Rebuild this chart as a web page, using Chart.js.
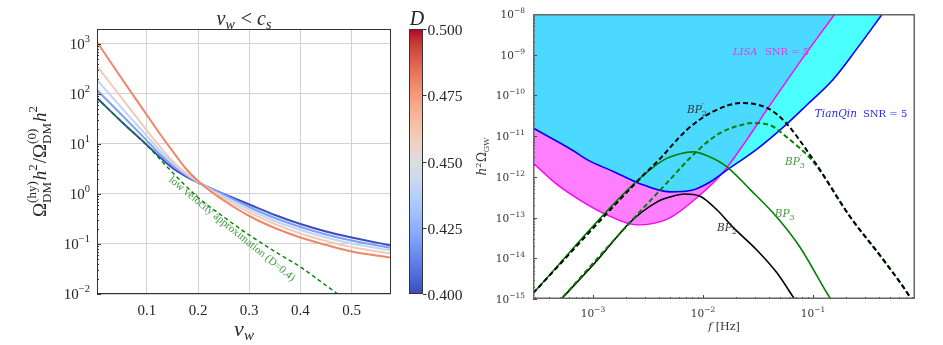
<!DOCTYPE html>
<html>
<head>
<meta charset="utf-8">
<script src="https://cdn.jsdelivr.net/npm/chart.js@4/dist/chart.umd.min.js"></script>
<style>
  html, body { margin: 0; padding: 0; background: #fff; }
  #wrap { position: relative; width: 943px; height: 345px; overflow: hidden; }
  canvas { position: absolute; top: 0; }
</style>
</head>
<body>
<div id="wrap">
  <canvas id="relic" width="400" height="345" style="left:0;width:400px;height:345px"></canvas>
  <canvas id="cbar" width="70" height="345" style="left:400px;width:70px;height:345px"></canvas>
  <canvas id="gw" width="473" height="345" style="left:470px;width:473px;height:345px"></canvas>
</div>
<script>
// ---------- left panel: relic abundance ratio vs wall velocity ----------
const VW = [0.0025, 0.05, 0.1, 0.125, 0.15, 0.175, 0.2, 0.225, 0.25, 0.3, 0.35, 0.4, 0.45, 0.5, 0.577];
const D_VALUES = [0.40, 0.42, 0.44, 0.46, 0.48];
const RATIO_D040 = [83.2, 28.2, 9.55, 5.50, 3.31, 2.29, 1.70, 1.29, 1.00, 0.617, 0.380, 0.251, 0.178, 0.135, 0.0933];
const RATIO_D042 = [120, 38.9, 11.7, 6.31, 3.72, 2.43, 1.72, 1.29, 0.977, 0.550, 0.331, 0.219, 0.155, 0.117, 0.0832];
const RATIO_D044 = [191, 53.7, 14.5, 7.41, 4.17, 2.57, 1.74, 1.23, 0.891, 0.490, 0.288, 0.191, 0.135, 0.102, 0.0741];
const RATIO_D046 = [363, 85.1, 18.6, 8.91, 4.57, 2.69, 1.76, 1.19, 0.813, 0.427, 0.251, 0.162, 0.115, 0.0871, 0.0646];
const RATIO_D048 = [1096, 209, 38.0, 16.2, 7.24, 3.31, 1.82, 1.12, 0.741, 0.363, 0.209, 0.135, 0.0955, 0.0708, 0.0537];
const RATIO_BY_D = [RATIO_D040, RATIO_D042, RATIO_D044, RATIO_D046, RATIO_D048];
// low velocity approximation, D = 0.4
const LOWV_VW = [0.0025, 0.05, 0.1, 0.15, 0.2, 0.25, 0.3, 0.35, 0.4, 0.45, 0.5];
const LOWV_RATIO = [83.2, 28.2, 9.33, 2.69, 0.851, 0.347, 0.151, 0.0708, 0.0347, 0.0148, 0.00631];
const VW_TICKS = [0.1, 0.2, 0.3, 0.4, 0.5];
const RATIO_TICK_EXP = [-2, -1, 0, 1, 2, 3];
const D_RANGE = [0.400, 0.500];
const D_TICKS = [0.400, 0.425, 0.450, 0.475, 0.500];

// ---------- right panel: GW spectra and detector sensitivities ----------
const TQ_F = [2.85e-4, 6.46e-4, 9.0e-4, 1.51e-3, 2.57e-3, 5.0e-3, 7.9e-3, 1.15e-2, 1.66e-2, 3.16e-2, 5.37e-2, 8.9e-2, 0.151, 0.251, 0.427];
const TQ_OMEGA = [1.58e-11, 4.57e-12, 2.57e-12, 1.38e-12, 7.1e-13, 4.27e-13, 4.7e-13, 7.4e-13, 1.48e-12, 5.0e-12, 1.66e-11, 6.0e-11, 2.4e-10, 1.41e-9, 1e-8];
const LISA_F = [2.85e-4, 4.52e-4, 7.6e-4, 1.35e-3, 2.51e-3, 3.55e-3, 5.0e-3, 8.9e-3, 1.51e-2, 2.4e-2, 3.8e-2, 7.6e-2, 0.158];
const LISA_OMEGA = [2.19e-12, 7.1e-13, 2.69e-13, 1.15e-13, 6.6e-14, 7.2e-14, 9.8e-14, 3.16e-13, 1.26e-12, 6.9e-12, 4.4e-11, 6.6e-10, 1e-8];
const BP2_F = [4.79e-4, 1.10e-3, 2.19e-3, 3.8e-3, 5.0e-3, 6.8e-3, 9.3e-3, 1.35e-2, 1.86e-2, 3.1e-2, 4.7e-2, 6.6e-2, 6.9e-2];
const BP2_OMEGA = [8.1e-16, 9.1e-15, 7.8e-14, 2.4e-13, 3.2e-13, 3.8e-13, 3.4e-13, 1.51e-13, 5.9e-14, 1.58e-14, 4.4e-15, 1.12e-15, 9.3e-16];
const BP2P_F = [2.85e-4, 2.51e-3, 4.07e-3, 7.1e-3, 1.23e-2, 2.24e-2, 3.9e-2, 5.6e-2, 0.1, 0.219, 0.437, 0.76, 0.79];
const BP2P_OMEGA = [1.38e-15, 7.6e-13, 2.8e-12, 1.41e-11, 4.0e-11, 6.5e-11, 4.8e-11, 2.2e-11, 2.7e-12, 1.02e-13, 9.1e-15, 1.12e-15, 9.3e-16];
const BP3_F = [2.85e-4, 2.19e-3, 4.37e-3, 6.2e-3, 8.1e-3, 1.12e-2, 1.66e-2, 2.7e-2, 4.7e-2, 7.6e-2, 0.141, 0.148];
const BP3_OMEGA = [1.38e-15, 5.6e-13, 2.57e-12, 3.7e-12, 4.1e-12, 3.2e-12, 1.74e-12, 4.8e-13, 1.02e-13, 1.9e-14, 1.12e-15, 9.3e-16];
const BP3P_F = [4.79e-4, 2.19e-3, 4.37e-3, 8.9e-3, 1.41e-2, 2.19e-2, 2.82e-2, 4.07e-2, 5.75e-2, 0.1, 0.219, 0.437, 0.76, 0.79];
const BP3P_OMEGA = [8.1e-16, 7.8e-14, 5.75e-13, 4.37e-12, 1.17e-11, 1.86e-11, 2.09e-11, 1.86e-11, 9.5e-12, 2.4e-12, 1.02e-13, 9.1e-15, 1.12e-15, 9.3e-16];
const F_RANGE = [2.85e-4, 0.846];
const OMEGA_RANGE = [1e-15, 1e-8];
const F_TICK_EXP = [-3, -2, -1];
const OMEGA_TICK_EXP = [-15, -14, -13, -12, -11, -10, -9, -8];

const SERIF_L = '"Liberation Serif", "DejaVu Serif", serif';
const SERIF_R = '"DejaVu Serif", serif';
const GREEN = '#008000';

// coolwarm colour table (33 stops)
const COOLWARM = [[59,76,192],[68,90,204],[77,104,215],[87,117,225],[98,130,234],[108,142,241],[119,154,247],[130,165,251],
  [141,176,254],[152,185,255],[163,194,255],[174,201,253],[184,208,249],[194,213,244],[204,217,238],[213,219,230],
  [221,221,221],[229,216,209],[236,211,197],[241,204,185],[245,196,173],[247,187,160],[247,177,148],[247,166,135],
  [244,154,123],[241,141,111],[236,127,99],[229,112,88],[222,96,77],[213,80,66],[203,62,56],[192,40,47],[180,4,38]];
function coolwarm(t) {
  t = Math.min(1, Math.max(0, t));
  const s = t * (COOLWARM.length - 1);
  const i = Math.min(Math.floor(s), COOLWARM.length - 2);
  const f = s - i, a = COOLWARM[i], b = COOLWARM[i + 1];
  return 'rgb(' + [0, 1, 2].map(k => Math.round(a[k] + (b[k] - a[k]) * f)).join(',') + ')';
}
const colorForD = d => coolwarm((d - D_RANGE[0]) / (D_RANGE[1] - D_RANGE[0]));
const pts = (xs, ys) => xs.map((x, i) => ({ x, y: ys[i] }));
const sup = n => (n < 0 ? '\u2212' + (-n) : String(n));

// draws a run of text pieces; a piece may carry a stacked superscript/subscript
function mathRun(ctx, parts, x, y, align) {
  const widths = parts.map(p => {
    ctx.font = p.f;
    let w = ctx.measureText(p.t).width;
    if (p.sup || p.sub) {
      ctx.font = p.sf;
      w += Math.max(p.sup ? ctx.measureText(p.sup).width : 0, p.sub ? ctx.measureText(p.sub).width : 0) + (p.after || 0);
    }
    return w;
  });
  const total = widths.reduce((s, w) => s + w, 0);
  let cx = align === 'center' ? x - total / 2 : align === 'right' ? x - total : x;
  ctx.textAlign = 'left';
  ctx.textBaseline = 'alphabetic';
  parts.forEach((p, i) => {
    ctx.font = p.f;
    ctx.fillText(p.t, cx, y);
    const bw = ctx.measureText(p.t).width;
    ctx.font = p.sf || p.f;
    if (p.sup) ctx.fillText(p.sup, cx + bw + (p.supdx || 0), y + p.supdy);
    if (p.sub) ctx.fillText(p.sub, cx + bw + (p.subdx || 0), y + p.subdy);
    cx += widths[i];
  });
  return total;
}

function logTicks(min, max) {
  const out = [];
  for (let e = Math.floor(Math.log10(min)); e <= Math.ceil(Math.log10(max)); e++) {
    for (let k = 1; k <= 9; k++) {
      const v = k * Math.pow(10, e);
      if (v >= min * 0.9999 && v <= max * 1.0001) out.push({ v, major: k === 1 });
    }
  }
  return out;
}

// ---------- left chart ----------
const relicDecor = {
  id: 'relicDecor',
  afterDraw(chart) {
    const { ctx, chartArea: a, scales: { x, y } } = chart;
    ctx.save();
    ctx.strokeStyle = '#333';
    ctx.lineWidth = 1;
    ctx.beginPath();
    logTicks(y.min, y.max).forEach(t => {
      const py = Math.round(y.getPixelForValue(t.v)) + 0.5;
      ctx.moveTo(a.left, py); ctx.lineTo(a.left + (t.major ? 4 : 2), py);
    });
    ctx.stroke();
    ctx.strokeRect(a.left + 0.5, a.top + 0.5, a.right - a.left - 1, a.bottom - a.top - 1);

    ctx.fillStyle = '#262626';
    RATIO_TICK_EXP.forEach(e => {
      const py = y.getPixelForValue(Math.pow(10, e));
      mathRun(ctx, [{ t: '10', f: '15px ' + SERIF_L, sup: sup(e), sf: '10.5px ' + SERIF_L, supdy: -7 }], a.left - 7, py + 5, 'right');
    });
    ctx.font = '15px ' + SERIF_L;
    ctx.textAlign = 'center';
    VW_TICKS.forEach(v => ctx.fillText(v.toFixed(1), x.getPixelForValue(v), a.bottom + 21));

    const cxm = (a.left + a.right) / 2;
    // title
    mathRun(ctx, [
      { t: 'v', f: 'italic 20px ' + SERIF_L, sub: 'w', sf: 'italic 14px ' + SERIF_L, subdy: 4, after: 1 },
      { t: ' < ', f: '20px ' + SERIF_L },
      { t: 'c', f: 'italic 20px ' + SERIF_L, sub: 's', sf: 'italic 14px ' + SERIF_L, subdy: 4 }
    ], cxm, 25, 'center');
    // x axis title
    mathRun(ctx, [{ t: 'v', f: 'italic 22px ' + SERIF_L, sub: 'w', sf: 'italic 15px ' + SERIF_L, subdy: 4 }], cxm, 336, 'center');
    // y axis title
    ctx.save();
    ctx.translate(46, (a.top + a.bottom) / 2);
    ctx.rotate(-Math.PI / 2);
    const big = '19px ' + SERIF_L, small = '13px ' + SERIF_L, ib = 'italic 19px ' + SERIF_L;
    mathRun(ctx, [
      { t: '\u03A9', f: big, sup: '(hy)', sub: 'DM', sf: small, supdy: -10, subdy: 5, after: 1 },
      { t: 'h', f: ib, sup: '2', sf: small, supdy: -9, after: 1 },
      { t: '/', f: big },
      { t: '\u03A9', f: big, sup: '(0)', sub: 'DM', sf: small, supdy: -10, subdy: 5, after: 1 },
      { t: 'h', f: ib, sup: '2', sf: small, supdy: -9 }
    ], 0, 0, 'center');
    ctx.restore();

    // label along the low-velocity approximation
    const p1 = { x: x.getPixelForValue(LOWV_VW[3]), y: y.getPixelForValue(LOWV_RATIO[3]) };
    const p2 = { x: x.getPixelForValue(LOWV_VW[6]), y: y.getPixelForValue(LOWV_RATIO[6]) };
    const ang = Math.atan2(p2.y - p1.y, p2.x - p1.x);
    ctx.save();
    ctx.translate(x.getPixelForValue(0.266), y.getPixelForValue(0.2));
    ctx.rotate(ang);
    ctx.fillStyle = '#3f9a3f';
    ctx.font = '11px ' + SERIF_L;
    ctx.textAlign = 'center';
    ctx.textBaseline = 'middle';
    ctx.fillText('low velocity approximation (D=0.4)', 0, 0);
    ctx.restore();
    ctx.restore();
  }
};

const relicSets = D_VALUES.map((d, i) => ({
  data: pts(VW, RATIO_BY_D[i]),
  borderColor: colorForD(d),
  borderWidth: 2,
  order: D_VALUES.length - i
}));
relicSets.push({
  data: pts(LOWV_VW, LOWV_RATIO),
  borderColor: GREEN,
  borderWidth: 1.4,
  borderDash: [4, 3],
  order: 0
});

new Chart(document.getElementById('relic'), {
  type: 'line',
  data: { datasets: relicSets },
  options: {
    responsive: false,
    animation: false,
    devicePixelRatio: 1,
    layout: { padding: { left: 0, top: 29, right: 9, bottom: 0 } },
    elements: { point: { radius: 0 }, line: { cubicInterpolationMode: 'monotone', fill: false } },
    plugins: { legend: { display: false }, tooltip: { enabled: false } },
    scales: {
      x: {
        type: 'linear', min: 0.0025, max: 0.577,
        afterBuildTicks: s => { s.ticks = VW_TICKS.map(v => ({ value: v })); },
        afterFit: s => { s.height = 51; },
        ticks: { display: false },
        grid: { color: '#d2d2d2', lineWidth: 1, drawTicks: false },
        border: { display: false }
      },
      y: {
        type: 'logarithmic', min: 0.01, max: 1995,
        afterBuildTicks: s => { s.ticks = RATIO_TICK_EXP.map(e => ({ value: Math.pow(10, e) })); },
        afterFit: s => { s.width = 97; },
        ticks: { display: false },
        grid: { color: '#d2d2d2', lineWidth: 1, drawTicks: false },
        border: { display: false }
      }
    }
  },
  plugins: [relicDecor]
});

// ---------- colour bar for D ----------
const cbarDecor = {
  id: 'cbarDecor',
  afterDraw(chart) {
    const { ctx, chartArea: a, scales: { y } } = chart;
    ctx.save();
    ctx.strokeStyle = '#333';
    ctx.lineWidth = 1;
    ctx.strokeRect(a.left + 0.5, a.top + 0.5, a.right - a.left - 1, a.bottom - a.top - 1);
    ctx.fillStyle = '#262626';
    ctx.font = '15.5px ' + SERIF_L;
    ctx.textAlign = 'left';
    ctx.textBaseline = 'alphabetic';
    ctx.beginPath();
    D_TICKS.forEach(d => {
      const py = Math.round(y.getPixelForValue(d)) + 0.5;
      ctx.moveTo(a.right, py); ctx.lineTo(a.right + 3.5, py);
      ctx.fillText(d.toFixed(3), a.right + 4.5, py + 5.5);
    });
    ctx.stroke();
    ctx.font = 'italic 20px ' + SERIF_L;
    ctx.textAlign = 'center';
    ctx.fillText('D', (a.left + a.right) / 2 + 1, a.top - 4);
    ctx.restore();
  }
};
new Chart(document.getElementById('cbar'), {
  type: 'bar',
  data: {
    labels: ['D'],
    datasets: [{
      data: [D_RANGE],
      barPercentage: 1, categoryPercentage: 1, borderWidth: 0,
      backgroundColor: c => {
        const a = c.chart.chartArea;
        if (!a) return '#ddd';
        const g = c.chart.ctx.createLinearGradient(0, a.bottom, 0, a.top);
        COOLWARM.forEach((rgb, i) => g.addColorStop(i / (COOLWARM.length - 1), 'rgb(' + rgb.join(',') + ')'));
        return g;
      }
    }]
  },
  options: {
    responsive: false, animation: false, devicePixelRatio: 1,
    layout: { padding: { left: 9, top: 29, right: 0, bottom: 51 } },
    plugins: { legend: { display: false }, tooltip: { enabled: false } },
    scales: {
      x: { display: false },
      y: {
        position: 'right', min: D_RANGE[0], max: D_RANGE[1],
        afterFit: s => { s.width = 47; },
        ticks: { display: false }, grid: { display: false }, border: { display: false }
      }
    }
  },
  plugins: [cbarDecor]
});

// ---------- right chart ----------
const GW_LABELS = [
  { f: 1.87e-2, omega: 9.8e-10, color: '#e23ae2', parts: [{ t: 'LISA', f: 'italic 10px ' + SERIF_R }] },
  { f: 3.66e-2, omega: 9.8e-10, color: '#e23ae2', parts: [{ t: 'SNR = 5', f: '10px ' + SERIF_R }] },
  { f: 0.104, omega: 2.95e-11, color: '#2b2bf0', parts: [{ t: 'TianQin', f: 'italic 10.5px ' + SERIF_R }] },
  { f: 0.285, omega: 2.95e-11, color: '#2b2bf0', parts: [{ t: 'SNR = 5', f: '10px ' + SERIF_R }] },
  { f: 7.16e-3, omega: 3.7e-11, color: '#333', parts: [{ t: 'BP', f: 'italic 10.5px ' + SERIF_R, sup: '\u2032', sub: '2', sf: '8px ' + SERIF_R, supdy: -5, subdy: 3 }] },
  { f: 5.56e-2, omega: 1.95e-12, color: '#3f9a3f', parts: [{ t: 'BP', f: 'italic 10.5px ' + SERIF_R, sup: '\u2032', sub: '3', sf: '8px ' + SERIF_R, supdy: -5, subdy: 3 }] },
  { f: 4.5e-2, omega: 1.02e-13, color: '#3f9a3f', parts: [{ t: 'BP', f: 'italic 10.5px ' + SERIF_R, sub: '3', sf: '8px ' + SERIF_R, subdy: 3 }] },
  { f: 1.34e-2, omega: 4.7e-14, color: '#333', parts: [{ t: 'BP', f: 'italic 10.5px ' + SERIF_R, sub: '2', sf: '8px ' + SERIF_R, subdy: 3 }] }
];

const gwDecor = {
  id: 'gwDecor',
  afterDraw(chart) {
    const { ctx, chartArea: a, scales: { x, y } } = chart;
    ctx.save();
    ctx.strokeStyle = '#444';
    ctx.lineWidth = 1;
    ctx.beginPath();
    logTicks(y.min, y.max).forEach(t => {
      const py = Math.round(y.getPixelForValue(t.v)) + 0.5;
      ctx.moveTo(a.left, py); ctx.lineTo(a.left + (t.major ? 4 : 2), py);
    });
    logTicks(x.min, x.max).forEach(t => {
      const px = Math.round(x.getPixelForValue(t.v)) + 0.5;
      ctx.moveTo(px, a.bottom); ctx.lineTo(px, a.bottom - (t.major ? 4 : 2));
    });
    ctx.stroke();
    ctx.strokeStyle = '#666';
    ctx.lineWidth = 1.5;
    ctx.strokeRect(a.left + 0.75, a.top + 0.75, a.right - a.left - 1.5, a.bottom - a.top - 1.5);

    ctx.fillStyle = '#333';
    OMEGA_TICK_EXP.forEach(e => {
      const py = y.getPixelForValue(Math.pow(10, e));
      mathRun(ctx, [{ t: '10', f: '10.5px ' + SERIF_R, sup: sup(e), sf: '7.5px ' + SERIF_R, supdy: -5 }], a.left - 8, py + 4, 'right');
    });
    F_TICK_EXP.forEach(e => {
      const px = x.getPixelForValue(Math.pow(10, e));
      mathRun(ctx, [{ t: '10', f: '10.5px ' + SERIF_R, sup: sup(e), sf: '7.5px ' + SERIF_R, supdy: -5 }], px, a.bottom + 18, 'center');
    });
    mathRun(ctx, [{ t: 'f', f: 'italic 11px ' + SERIF_R }, { t: ' [Hz]', f: '11px ' + SERIF_R }], (a.left + a.right) / 2, a.bottom + 31, 'center');
    ctx.save();
    ctx.translate(a.left - 47, (a.top + a.bottom) / 2);
    ctx.rotate(-Math.PI / 2);
    mathRun(ctx, [
      { t: 'h', f: 'italic 12px ' + SERIF_R, sup: '2', sf: '8px ' + SERIF_R, supdy: -5, after: 0.5 },
      { t: '\u03A9', f: '12px ' + SERIF_R, sub: 'GW', sf: '8px ' + SERIF_R, subdy: 3 }
    ], 0, 0, 'center');
    ctx.restore();

    GW_LABELS.forEach(l => {
      ctx.fillStyle = l.color;
      mathRun(ctx, l.parts, x.getPixelForValue(l.f), y.getPixelForValue(l.omega), 'left');
    });
    ctx.restore();
  }
};

new Chart(document.getElementById('gw'), {
  type: 'line',
  data: {
    datasets: [
      { data: pts(BP2P_F, BP2P_OMEGA), borderColor: '#000', borderWidth: 2, borderDash: [5, 3], order: 0 },
      { data: pts(BP3P_F, BP3P_OMEGA), borderColor: GREEN, borderWidth: 2, borderDash: [5, 3], order: 1 },
      { data: pts(BP3_F, BP3_OMEGA), borderColor: GREEN, borderWidth: 1.6, order: 2 },
      { data: pts(BP2_F, BP2_OMEGA), borderColor: '#000', borderWidth: 1.6, order: 3 },
      { data: pts(TQ_F, TQ_OMEGA), borderColor: '#0000ff', borderWidth: 1.6, fill: 'end', backgroundColor: 'rgba(0,255,255,0.7)', order: 4 },
      { data: pts(LISA_F, LISA_OMEGA), borderColor: '#ff00ff', borderWidth: 1.4, fill: 'end', backgroundColor: 'rgba(255,0,255,0.5)', order: 5 }
    ]
  },
  options: {
    responsive: false, animation: false, devicePixelRatio: 1,
    layout: { padding: { left: 0, top: 14, right: 28, bottom: 0 } },
    elements: { point: { radius: 0 }, line: { cubicInterpolationMode: 'monotone' } },
    plugins: { legend: { display: false }, tooltip: { enabled: false }, filler: { drawTime: 'beforeDatasetsDraw' } },
    scales: {
      x: {
        type: 'logarithmic', min: F_RANGE[0], max: F_RANGE[1],
        afterFit: s => { s.height = 46; },
        ticks: { display: false }, grid: { display: false }, border: { display: false }
      },
      y: {
        type: 'logarithmic', min: OMEGA_RANGE[0], max: OMEGA_RANGE[1],
        afterFit: s => { s.width = 63; },
        ticks: { display: false }, grid: { display: false }, border: { display: false }
      }
    }
  },
  plugins: [gwDecor]
});
</script>
</body>
</html>
